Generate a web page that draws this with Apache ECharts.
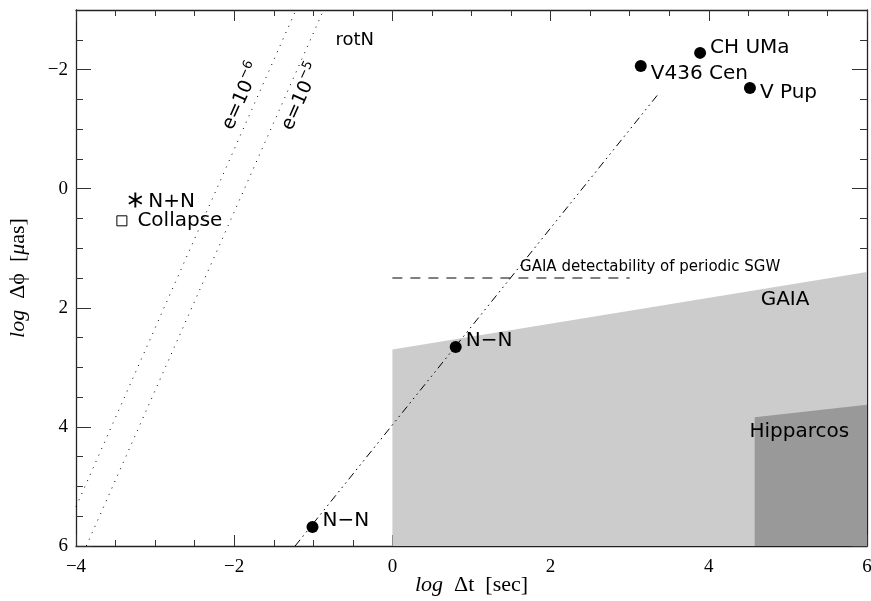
<!DOCTYPE html>
<html><head><meta charset="utf-8">
<script src="https://cdn.jsdelivr.net/npm/echarts@6/dist/echarts.min.js"></script>
<style>html,body{margin:0;padding:0;background:#fff}#c{width:871px;height:601px}</style>
</head><body><div id="c"></div>
<script>
// ---------- data ----------
const xTicks = [-4, -2, 0, 2, 4, 6];
const yTicks = [-2, 0, 2, 4, 6];
const yMinorTicks = [-2.5, -1.5, -1, -0.5, 0.5, 1, 1.5, 2.5, 3, 3.5, 4.5, 5, 5.5];

const gaiaX = [0, 0, 6, 6];
const gaiaY = [6, 2.7, 1.4, 6];
const hippX = [4.58, 4.58, 6, 6];
const hippY = [6, 3.84, 3.63, 6];

const rot6X = [-4, -1.22];
const rot6Y = [5.34, -3];
const rot5X = [-3.87, -0.87];
const rot5Y = [6, -3];
const nnLineX = [-1.23, 3.35];
const nnLineY = [6, -1.57];
const sgwX = [0, 3];
const sgwY = [1.5, 1.5];

const starNames = ['V436 Cen', 'CH UMa', 'V Pup', 'N\u2212N', 'N\u2212N'];
const starX = [3.14, 3.89, 4.52, 0.80, -1.01];
const starY = [-2.06, -2.28, -1.69, 2.66, 5.68];

const mergeName = ['N+N'];
const mergeX = [-3.25];
const mergeY = [0.19];
const collapseName = ['Collapse'];
const collapseX = [-3.42];
const collapseY = [0.54];

const noteText = ['rotN', 'GAIA', 'Hipparcos', 'GAIA detectability of periodic SGW'];
const noteX = [-0.47, 4.97, 4.52, 1.62];
const noteY = [-2.49, 1.87, 4.09, 1.33];

const eExp = ['\u22126', '\u22125'];
const eX = [-1.9, -1.15];
const eY = [-1.55, -1.54];

// ---------- styles ----------
const SANS = 'DejaVu Sans';
const SERIF = 'Liberation Serif';
const starLabelOffsets = [[0, 8], [0, -5], [0, 5], [0, -6], [0, -6]];
const noteStyles = [
  {align: 'center', fontSize: 18},
  {align: 'center', fontSize: 20},
  {align: 'left', fontSize: 20},
  {align: 'left', fontSize: 15}
];
const asteriskPath = 'path://M-1.3,-10L1.3,-10L1.3,10L-1.3,10Z' +
  'M-9.31,-3.87L-8.01,-6.13L9.31,3.87L8.01,6.13Z' +
  'M-8.01,6.13L-9.31,3.87L8.01,-6.13L9.31,-3.87Z';

const pairs = (xs, ys) => xs.map((x, i) => [x, ys[i]]);
const minus = v => String(v).replace('-', '\u2212');
const frameLine = {show: true, onZero: false, lineStyle: {color: '#222', width: 1.3}};
const tickStyle = {color: '#333', width: 1};
const nameStyle = {fontFamily: SERIF, fontSize: 22, color: '#000',
  rich: {i: {fontFamily: SERIF, fontStyle: 'italic', fontSize: 22, color: '#000'}}};

function xAx(pos, labels) {
  return {
    type: 'value', position: pos, min: -4, max: 6, interval: 2,
    axisLine: frameLine,
    axisTick: {show: true, inside: true, length: 11, lineStyle: tickStyle},
    minorTick: {show: true, splitNumber: 4, length: 6, lineStyle: tickStyle},
    splitLine: {show: false}, minorSplitLine: {show: false},
    axisLabel: labels ? {show: true, formatter: minus, fontFamily: SERIF, fontSize: 19, color: '#000', margin: 12} : {show: false},
    name: labels ? '{i|log}  \u0394t  [sec]' : '',
    nameLocation: 'middle', nameGap: 28, nameMoveOverlap: false,
    nameTextStyle: nameStyle
  };
}
function yAx(pos, major, labels) {
  return {
    type: 'value', position: pos, min: -3, max: 6, inverse: true,
    axisLine: major ? frameLine : {show: false, onZero: false},
    axisTick: {show: true, inside: true, length: major ? 15 : 7, customValues: major ? yTicks : yMinorTicks, lineStyle: tickStyle},
    splitLine: {show: false},
    axisLabel: labels ? {show: true, customValues: yTicks, formatter: minus, fontFamily: SERIF, fontSize: 19, color: '#000', margin: 8} : {show: false},
    name: labels ? '{i|log}  \u0394\u03D5  [{i|\u03BC}as]' : '',
    nameLocation: 'middle', nameGap: 47, nameRotate: 90, nameMoveOverlap: false,
    nameTextStyle: nameStyle
  };
}

function polygonSeries(xs, ys, color) {
  return {
    type: 'custom', z: 1, silent: true, clip: true,
    data: pairs(xs, ys),
    renderItem: (params, api) => {
      if (params.dataIndex !== 0) return null;
      const pts = xs.map((x, i) => api.coord([x, ys[i]]));
      return {type: 'polygon', shape: {points: pts}, style: {fill: color}};
    }
  };
}
function lineSeries(xs, ys, dash) {
  return {
    type: 'line', z: 3, symbol: 'none', silent: true,
    data: pairs(xs, ys),
    lineStyle: {color: '#000', width: 1, type: dash, opacity: 1}
  };
}

const option = {
  animation: false,
  backgroundColor: '#fff',
  grid: {left: 76, right: 4, top: 10, bottom: 55, containLabel: false, outerBoundsMode: 'none'},
  xAxis: [xAx('bottom', true), xAx('top', false)],
  yAxis: [yAx('left', true, true), yAx('left', false, false), yAx('right', true, false), yAx('right', false, false)],
  series: [
    polygonSeries(gaiaX, gaiaY, '#cccccc'),
    polygonSeries(hippX, hippY, '#999999'),
    lineSeries(rot6X, rot6Y, [1, 6]),
    lineSeries(rot5X, rot5Y, [1, 6]),
    lineSeries(nnLineX, nnLineY, [8, 4, 1.5, 4, 1.5, 4, 1.5, 4]),
    lineSeries(sgwX, sgwY, [10, 8]),
    {
      type: 'scatter', z: 5, silent: true, symbol: 'circle', symbolSize: 12,
      itemStyle: {color: '#000', opacity: 1},
      data: starX.map((x, i) => ({
        value: [x, starY[i]], name: starNames[i],
        label: {offset: starLabelOffsets[i]}
      })),
      label: {show: true, position: 'right', distance: 4, formatter: p => p.name,
        fontFamily: SANS, fontSize: 20, color: '#000'}
    },
    {
      type: 'scatter', z: 5, silent: true, symbol: asteriskPath, symbolSize: 15, symbolKeepAspect: true,
      itemStyle: {color: '#000', opacity: 1},
      data: mergeX.map((x, i) => ({value: [x, mergeY[i]], name: mergeName[i]})),
      label: {show: true, position: 'right', distance: 6, offset: [0, 2], formatter: p => p.name,
        fontFamily: SANS, fontSize: 20, color: '#000'}
    },
    {
      type: 'scatter', z: 5, silent: true, symbol: 'rect', symbolSize: 10,
      itemStyle: {color: '#fff', borderColor: '#000', borderWidth: 1, opacity: 1},
      data: collapseX.map((x, i) => ({value: [x, collapseY[i]], name: collapseName[i]})),
      label: {show: true, position: 'right', distance: 10, formatter: p => p.name,
        fontFamily: SANS, fontSize: 20, color: '#000'}
    },
    {
      type: 'scatter', z: 6, silent: true, symbolSize: 1,
      itemStyle: {color: 'rgba(0,0,0,0)', opacity: 1},
      data: noteX.map((x, i) => ({
        value: [x, noteY[i]], name: noteText[i],
        label: {align: noteStyles[i].align, fontSize: noteStyles[i].fontSize}
      })),
      label: {show: true, position: [0, 0], verticalAlign: 'middle', formatter: p => p.name,
        fontFamily: SANS, color: '#000'}
    },
    {
      type: 'scatter', z: 6, silent: true, symbolSize: 1,
      itemStyle: {color: 'rgba(0,0,0,0)', opacity: 1},
      data: eX.map((x, i) => ({value: [x, eY[i]], name: eExp[i]})),
      label: {show: true, position: 'inside', rotate: 66,
        formatter: p => '{a|e=10}{s|' + p.name + '}',
        rich: {
          a: {fontFamily: SANS, fontSize: 19, color: '#000'},
          s: {fontFamily: SANS, fontSize: 13, color: '#000', padding: [0, 0, 14, 0]}
        }}
    }
  ]
};

const chart = echarts.init(document.getElementById('c'), null, {renderer: 'canvas'});
chart.setOption(option);
</script>
</body></html>
